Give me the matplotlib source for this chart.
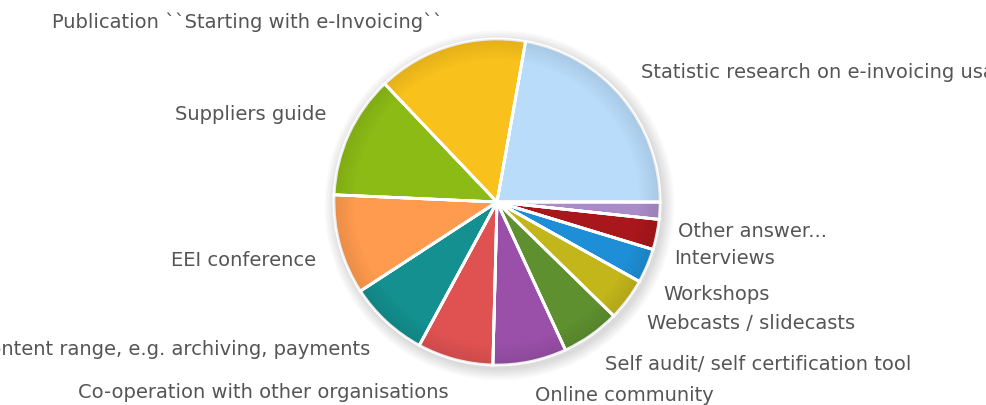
import numpy as np
import matplotlib.pyplot as plt
from matplotlib.patches import Wedge

# shares (percent), clockwise from the top-right slice
labels = ["Statistic research on e-invoicing usage", "Other answer...", "Interviews",
          "Workshops", "Webcasts / slidecasts", "Self audit/ self certification tool",
          "Online community", "Co-operation with other organisations",
          "Extended content range, e.g. archiving, payments", "EEI conference",
          "Suppliers guide", "Publication ``Starting with e-Invoicing``"]
shares = [22.2, 1.7, 3.0, 3.4, 4.2, 5.8, 7.3, 7.5, 7.9, 9.9, 12.2, 14.9]
colors = ["#b8dcfa", "#a98bc8", "#a8171c", "#1e8fd6", "#c3b61b", "#5e902f",
          "#9a50a8", "#e05252", "#13908f", "#ff9b4e", "#8cbb15", "#f8c11c"]

W, H = 987, 405
R = 163.0            # pie radius in pixels
cx, cy = 497, 203    # pie centre in pixels (from bottom-left)

fig = plt.figure(figsize=(W / 100, H / 100), dpi=100)
ax = fig.add_axes([0, 0, 1, 1])
ax.axis("off")

# soft drop shadow
for k in range(6):
    ax.add_patch(plt.Circle((0.015, -0.02), 1.0 + 0.012 * (6 - k), color="#000000",
                            alpha=0.025, lw=0, zorder=0))

wedges, texts = ax.pie(shares, colors=colors, labels=labels, startangle=79.9,
                       counterclock=False, labeldistance=1.15,
                       wedgeprops=dict(edgecolor="white", linewidth=2),
                       textprops=dict(color="#555555", fontsize=14, fontfamily="DejaVu Sans"))
ax.set_xlim(-cx / R, (W - cx) / R)
ax.set_ylim(-cy / R, (H - cy) / R)
ax.set_aspect("auto")

# darker rim for the bevelled look
for w in wedges:
    for k in range(8):
        r0 = 0.86 + 0.0175 * k
        ax.add_patch(Wedge((0, 0), r0 + 0.0175, w.theta1, w.theta2, width=0.0175,
                           color="black", alpha=0.012 * k, lw=0, zorder=w.get_zorder() + 0.1))
    for th in (w.theta1, w.theta2):
        t = np.deg2rad(th)
        ax.plot([0, np.cos(t)], [0, np.sin(t)], color="white", lw=2, zorder=w.get_zorder() + 0.2)

# labels sit above the anchor in the upper half, below it in the lower half;
# the thin slices on the right get pushed down a little more
for t, w in zip(texts, wedges):
    mid = (w.theta1 + w.theta2) / 2
    s = np.sin(np.deg2rad(mid))
    x, y = t.get_position()
    if s > 0.9:
        t.set_va("center")
    elif s > 0:
        t.set_va("bottom")
    else:
        t.set_va("top")
    if -30 < mid < 0:
        t.set_position((x - 0.04, y - 0.06))

fig.savefig("out.png", dpi=100, facecolor="white")
